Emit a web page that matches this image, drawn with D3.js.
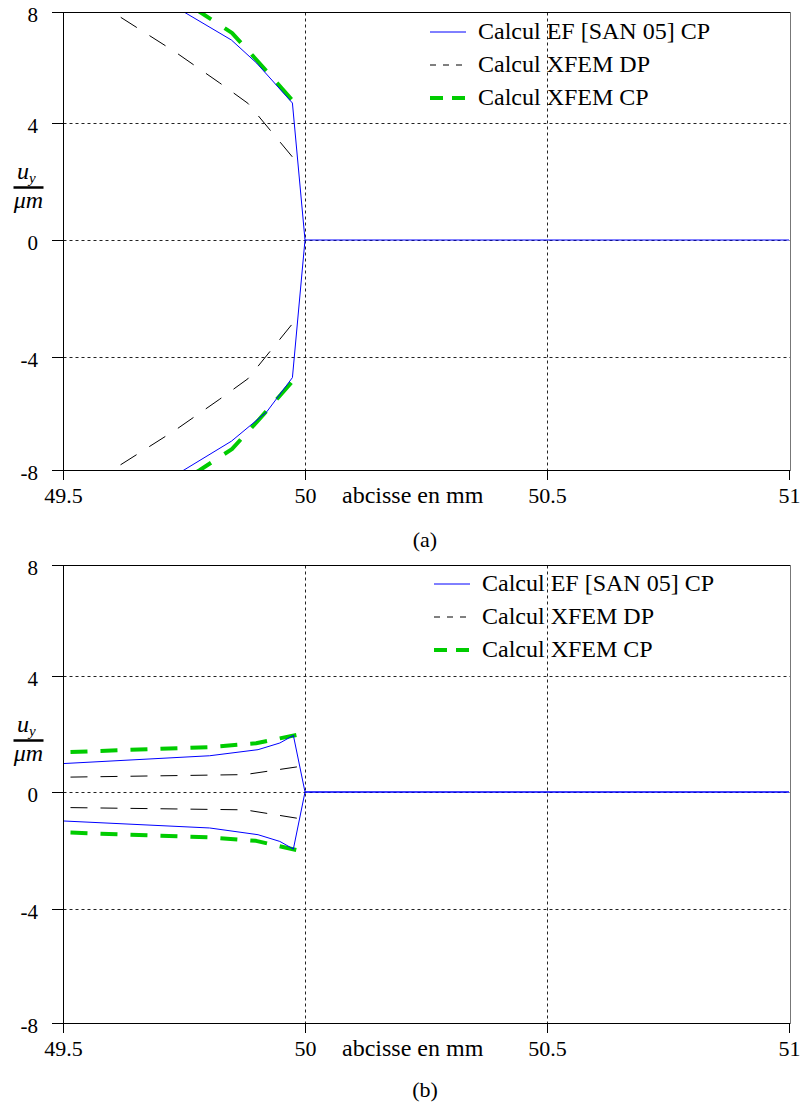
<!DOCTYPE html>
<html><head><meta charset="utf-8">
<script src="https://cdn.jsdelivr.net/npm/d3@7"></script>
<style>
body{margin:0;background:#fff}
svg{display:block}
text{font-family:"Liberation Serif","Times New Roman",serif;fill:#000}
</style>
</head><body>
<svg id="c" width="802" height="1105"></svg>
<script>
// ---------- shared labels / ticks ----------
const xTicks = [49.5, 50, 50.5, 51];
const yTicks = [-8, -4, 0, 4, 8];
const xGrid = [50, 50.5];
const yGrid = [-4, 0, 4];
const legendLabels = ["Calcul EF [SAN 05] CP", "Calcul XFEM DP", "Calcul XFEM CP"];
const xLabel = "abcisse en mm";
const panelTags = ["(a)", "(b)"];

// ---------- panel (a) data ----------
const aEfUpX = [49.70, 49.75, 49.848, 49.90, 49.974, 50.0, 51.0];
const aEfUpY = [8.5, 8.0, 6.99, 6.16, 4.72, 0, 0];
const aEfLoX = [49.70, 49.75, 49.848, 49.921, 49.974, 50.0];
const aEfLoY = [-8.5, -8.0, -6.98, -5.94, -4.73, 0];
const aDpX = [49.50, 49.602, 49.731, 49.824, 49.882, 49.983];
const aDpUpY = [9.1, 8.0, 6.57, 5.44, 4.71, 2.66];
const aDpLoY = [-9.1, -8.0, -6.60, -5.49, -4.77, -2.68];
const aCpX = [49.70, 49.783, 49.849, 49.90, 49.985];
const aCpUpY = [8.85, 8.0, 7.25, 6.27, 4.60];
const aCpLoY = [-8.85, -8.0, -7.26, -6.31, -4.65];

// ---------- panel (b) data ----------
const bEfX = [49.5, 49.803, 49.903, 49.948, 49.976, 50.0, 51.0];
const bEfUpY = [0.98, 1.25, 1.46, 1.69, 1.95, 0, 0];
const bEfLoY = [-0.99, -1.23, -1.46, -1.69, -1.95, 0, 0];
const bDpX = [49.5, 49.876, 49.985];
const bDpUpY = [0.51, 0.60, 0.87];
const bDpLoY = [-0.53, -0.61, -0.90];
const bCpX = [49.5, 49.803, 49.899, 49.986];
const bCpUpY = [1.37, 1.55, 1.68, 1.98];
const bCpLoY = [-1.38, -1.55, -1.67, -2.00];

const zip = (xs, ys) => xs.map((v, i) => [v, ys[i]]);

const styles = {
  ef: {stroke: "#0000ff", width: 1, dash: null},
  dp: {stroke: "#000000", width: 1, dash: "dp"},
  cp: {stroke: "#00cc00", width: 4, dash: "cp"}
};
const legendKeys = ["ef", "dp", "cp"];
const legendDash = {ef: null, dp: "6,7", cp: "13,9"};

const panels = [
  {
    tag: panelTags[0], yRange: [470, 357, 240, 123, 12], legX: 430, legY: 32, tagY: 547, labY: 187,
    dash: {dp: ["19,15", 0], cp: ["22,16", 0]},
    series: [
      {k: "cp", d: zip(aCpX, aCpUpY)}, {k: "cp", d: zip(aCpX, aCpLoY)},
      {k: "dp", d: zip(aDpX, aDpUpY)}, {k: "dp", d: zip(aDpX, aDpLoY)},
      {k: "ef", d: zip(aEfUpX, aEfUpY)}, {k: "ef", d: zip(aEfLoX, aEfLoY)}
    ]
  },
  {
    tag: panelTags[1], yRange: [1023, 909, 792, 676, 565], legX: 434, legY: 584, tagY: 1097, labY: 740,
    dash: {dp: ["17,13", 22.5], cp: ["17,13", 22.5]},
    series: [
      {k: "cp", d: zip(bCpX, bCpUpY)}, {k: "cp", d: zip(bCpX, bCpLoY)},
      {k: "dp", d: zip(bDpX, bDpUpY)}, {k: "dp", d: zip(bDpX, bDpLoY)},
      {k: "ef", d: zip(bEfX, bEfUpY)}, {k: "ef", d: zip(bEfX, bEfLoY)}
    ]
  }
];

const svg = d3.select("#c");
const defs = svg.append("defs");
const L = 63, R = 789, FR = 790.5;

panels.forEach((p, pi) => {
  const top = p.yRange[4], bottom = p.yRange[0];
  const x = d3.scaleLinear().domain([49.5, 51]).range([L, R]);
  const y = d3.scaleLinear().domain(yTicks).range(p.yRange);
  const g = svg.append("g");

  // grid
  g.selectAll(".gx").data(xGrid).join("line")
    .attr("x1", d => Math.round(x(d)) + 0.5).attr("x2", d => Math.round(x(d)) + 0.5)
    .attr("y1", top + 0.5).attr("y2", bottom + 0.5)
    .attr("stroke", "#222").attr("stroke-width", 1).attr("stroke-dasharray", "3,3");
  g.selectAll(".gy").data(yGrid).join("line")
    .attr("y1", d => Math.round(y(d)) + 0.5).attr("y2", d => Math.round(y(d)) + 0.5)
    .attr("x1", L + 0.5).attr("x2", FR)
    .attr("stroke", "#222").attr("stroke-width", 1).attr("stroke-dasharray", "3,3");

  // clip
  const cid = "clip" + pi;
  defs.append("clipPath").attr("id", cid).append("rect")
    .attr("x", L + 0.5).attr("y", top + 0.5).attr("width", FR - L - 0.5).attr("height", bottom - top);

  const line = d3.line().x(d => x(d[0])).y(d => y(d[1]));
  const lg = g.append("g").attr("clip-path", `url(#${cid})`);
  p.series.forEach(s => {
    const st = styles[s.k];
    const path = lg.append("path").attr("d", line(s.d)).attr("fill", "none")
      .attr("stroke", st.stroke).attr("stroke-width", st.width)
      .attr("stroke-linejoin", "round");
    if (st.dash) {
      path.attr("stroke-dasharray", p.dash[s.k][0]).attr("stroke-dashoffset", p.dash[s.k][1]);
    }
  });

  // frame
  g.append("line").attr("x1", 52).attr("x2", FR).attr("y1", top + 0.5).attr("y2", top + 0.5).attr("stroke", "#000");
  g.append("line").attr("x1", 52).attr("x2", FR).attr("y1", bottom + 0.5).attr("y2", bottom + 0.5).attr("stroke", "#000");
  g.append("line").attr("x1", L + 0.5).attr("x2", L + 0.5).attr("y1", top).attr("y2", bottom + 1).attr("stroke", "#000");
  g.append("line").attr("x1", FR).attr("x2", FR).attr("y1", top).attr("y2", bottom + 1).attr("stroke", "#777");

  // axes
  const ya = g.append("g").attr("transform", `translate(${L},0)`)
    .call(d3.axisLeft(y).tickValues(yTicks).tickSize(11).tickFormat(d => String(d)));
  ya.select(".domain").remove();
  ya.selectAll("text").attr("x", -25).attr("dy", null).attr("y", 9.5)
    .attr("font-size", 21).attr("font-family", "Liberation Serif");

  const xa = g.append("g").attr("transform", `translate(0,${bottom})`)
    .call(d3.axisBottom(x).tickValues(xTicks).tickSize(10).tickFormat(d => String(d)));
  xa.select(".domain").remove();
  xa.selectAll("text").attr("y", 33).attr("dy", null)
    .attr("font-size", 22).attr("font-family", "Liberation Serif");

  // x label
  g.append("text").attr("x", 342).attr("y", bottom + 33).attr("font-size", 24).text(xLabel);

  // y label fraction (one text element: u_y over μm)
  const yl = g.append("text").attr("font-style", "italic");
  yl.append("tspan").attr("x", 17).attr("y", p.labY - 8).attr("font-size", 24).text("u");
  yl.append("tspan").attr("dy", 3.5).attr("font-size", 15).text("y");
  yl.append("tspan").attr("x", 28.5).attr("y", p.labY + 21).attr("text-anchor", "middle")
    .attr("font-size", 24).text("\u03bcm");
  g.append("line").attr("x1", 13.5).attr("x2", 43.5).attr("y1", p.labY + 0.5).attr("y2", p.labY + 0.5)
    .attr("stroke", "#000").attr("stroke-width", 2.5);

  // legend
  const leg = g.append("g");
  legendKeys.forEach((k, i) => {
    const yy = p.legY + i * 33;
    const st = styles[k];
    const ln = leg.append("line").attr("x1", p.legX).attr("x2", p.legX + 36).attr("y1", yy).attr("y2", yy)
      .attr("stroke", st.stroke).attr("stroke-width", st.width);
    if (legendDash[k]) ln.attr("stroke-dasharray", legendDash[k]);
    leg.append("text").attr("x", p.legX + 48).attr("y", yy + 7).attr("font-size", 24).text(legendLabels[i]);
  });

  // panel tag
  g.append("text").attr("x", 425).attr("y", p.tagY).attr("text-anchor", "middle")
    .attr("font-size", 22).text(p.tag);
});
</script>
</body></html>
